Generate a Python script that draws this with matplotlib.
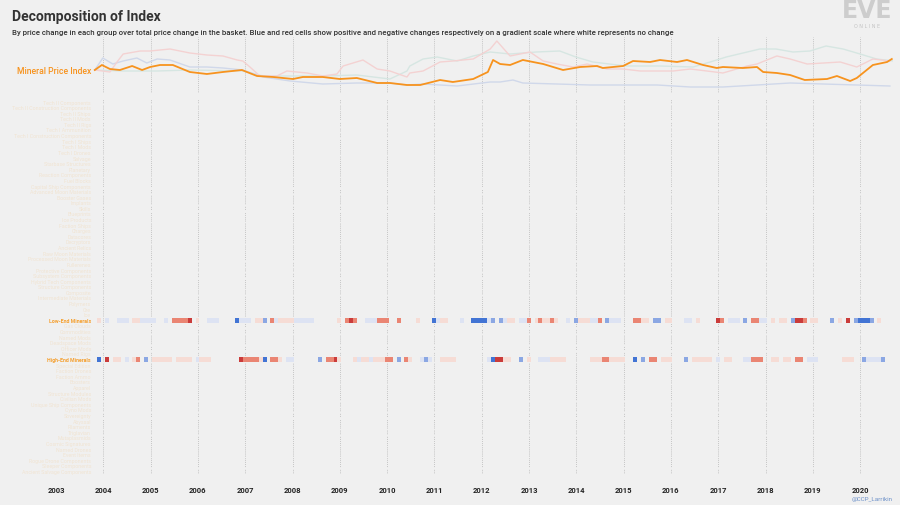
import numpy as np
import matplotlib
matplotlib.use("Agg")
import matplotlib.pyplot as plt
from matplotlib.colors import LinearSegmentedColormap

# ---------------- data ----------------
idx_years = [2003.82,2003.97,2004.14,2004.35,2004.61,2004.82,2004.99,2005.20,2005.47,2005.83,2006.19,2006.53,
             2006.93,2007.25,2007.59,2008.01,2008.22,2008.64,2009.00,2009.36,2009.79,2010.06,2010.42,2010.70,
             2011.12,2011.39,2011.82,2012.13,2012.24,2012.39,2012.60,2012.87,2013.30,2013.72,2014.08,2014.44,
             2014.56,2014.99,2015.20,2015.56,2015.77,2016.13,2016.34,2016.68,2016.97,2017.10,2017.52,2017.82,
             2017.95,2018.24,2018.52,2018.83,2019.30,2019.51,2019.79,2019.93,2020.27,2020.57,2020.67]
idx_values = [29,34,30,29,33,29,32,34,34,27,25,27,29,23,22,20,22,22,20,21,16,16,14,14,19,17,20,27,39,35,
              34,39,35,29,32,33,31,33,38,37,39,37,39,34,31,32,31,32,27,26,24,19,20,23,18,21,34,37,40]

pink_years = [2003.82,2004.14,2004.29,2004.42,2004.78,2004.99,2005.41,2005.83,2006.19,2006.53,2006.83,2006.95,
              2007.10,2007.31,2007.67,2007.88,2008.31,2008.64,2008.94,2009.07,2009.49,2009.79,2010.06,2010.42,
              2010.48,2010.76,2011.12,2011.39,2011.82,2012.18,2012.32,2012.60,2013.02,2013.30,2013.59,2013.93,
              2014.23,2014.65,2014.99,2015.35,2016.05,2016.41,2016.76,2017.10,2017.61,2017.82,2018.24,2018.52,
              2018.88,2019.58,2019.93,2020.27,2020.63]
pink_values = [29,27,37,45,48,48,50,46,44,43,39,38,32,23,23,28,26,23,25,33,39,30,28,22,26,28,37,38,40,50,
               58,43,47,38,35,32,35,30,30,28,28,30,28,26,33,35,43,40,35,37,32,40,38]

blue_years = [2003.82,2003.99,2004.20,2004.42,2004.71,2004.92,2005.14,2005.41,2005.83,2006.19,2006.53,2006.95,
              2007.38,2007.95,2008.64,2009.36,2010.06,2010.42,2010.76,2011.48,2012.18,2012.39,2012.66,2012.87,
              2013.59,2014.29,2015.71,2016.41,2017.10,2017.82,2018.52,2019.22,2019.93,2020.63]
blue_values = [29,41,35,38,41,36,40,39,32,32,31,29,22,18,15,16,16,14,15,13,17,17,19,16,15,14,14,12,12,14,
               16,15,14,13]

teal_years = [2003.82,2004.42,2005.14,2005.83,2006.95,2007.38,2007.95,2008.64,2009.36,2010.06,2010.42,2010.48,
              2010.76,2011.06,2011.48,2011.82,2012.18,2012.60,2013.15,2013.65,2013.99,2014.35,2015.05,2015.77,
              2016.47,2016.83,2017.17,2017.88,2018.22,2018.58,2018.94,2019.28,2019.64,2020.00,2020.35,2020.71]
teal_values = [29,28,28,29,28,23,23,23,24,20,28,33,40,42,38,43,47,45,47,48,42,37,33,33,32,37,42,50,50,47,
               48,53,50,45,40,38]

hm_start = 2003.867
low_end = [-1,0,1,0,0,1,1,1,0,-1,-1,1, 1,1,1,0,0,1,0,-2,-2,-2,-2,-3, 0,-1,0,0,1,1,1,0,0,0,0,3,
           1,1,1,0,-1,-1,2,0,-2,1,-1,-1, -1,-1,1,1,1,1,1,0,0,0,0,0, 0,-1,0,-2,-3,-2,0,0,1,1,1,-2,
           -2,-2,0,0,-2,0,0,0,0,-1,0,0, 0,3,1,-1,-1,0,0,0,1,0,0,3, 3,3,3,1,
           2,0,2,1,-1,-1,0,1,1,-2,0,-1,-2,-1,-1,-2,-1,0,0,1,0,2,-1,-1,-1,1,1,-2,0,2,1,1,1,0,0,0,
           -2,-2,-1,-1,0,2,2,0,-1,-1,0,0,0,1,1,0,-1,0,0,0,0,-3,-2,0,1,1,1,0,2,0,-2,-2,1,1,0,-1,
           0,-1,-1,0,2,-3,-3,-2,0,-1,-1,0,0,0,2,0,-1,0,-3,0,2,3,3,3,2,0,-1,0,-1,0]
high_end = [3,0,-3,0,-1,-1,0,1,0,-1,-2,0, 2,0,-1,-1,-1,-1,-1,0,-1,-1,-1,-1, 0,1,-1,-1,-1,0,0,0,0,0,0,0,
            -3,-2,-2,-2,-2,-1,3,0,-2,-2,-1,0, 1,1,0,0,0,0,0,0,2,0,-2,-2, -3,-1,0,0,0,-1,1,-1,-1,1,-1,-1,
            -1,-2,-2,0,2,0,-2,-1,0,0,1,2, 1,0,0,-1,-1,-1,-1,0,0,0,0,0, 0,0,0,1,
            3,-3,-3,-1,-1,0,0,2,0,-1,0,0,1,1,1,-1,-1,-1,-1,0,0,0,0,0,0,-1,-1,-1,-2,-2,-1,-1,-1,-1,0,0,
            3,0,2,0,-2,-2,0,-1,-1,-1,0,0,0,2,0,-1,-1,-1,-1,-1,0,1,0,-1,-1,0,0,0,1,1,-2,-2,-2,0,0,-1,
            -1,0,-1,-1,0,-2,-2,0,1,1,1,0,0,0,0,0,0,-1,-1,-1,0,0,2,1,1,1,1,2]

row_labels = ["Tech II Components","Tech II Construction Components","Tech II Ships","Tech II Mods",
    "Tech II Rigs","Tech I Ammunition","Tech I Construction Components","Tech I Ships","Tech I Mods",
    "Tech I Drones","Salvage","Starbase Structures","Planetary","Reaction Components","Fuel Blocks",
    "Capital Ship Components","Advanced Moon Materials","Booster Gases","Implants","Skills","Blueprints",
    "Ice Products","Faction Ships","Charges","Datacores","Decryptors","Ancient Relics",
    "Raw Moon Materials","Processed Moon Materials","Fullerenes","Protective Components",
    "Subsystem Components","Hybrid Tech Components","Structure Components","Composite",
    "Intermediate Materials","Polymers","Ore","Ice","Low-End Minerals","Gas Clouds","Commodities",
    "Named Mods","Deadspace Mods","Officer Mods","Named Rigs","High-End Minerals","Special Edition",
    "Faction Drones","Faction Ammo","Boosters","Apparel","Structure Modules","Civilian Mods",
    "Unique Ship Components","Cyno Mods","Sovereignty","Abyssal","Filaments","Triglavian",
    "Mutaplasmids","Cosmic Signatures","Named Drones","Event Items","Rogue Drone Components",
    "Sleeper Components","Ancient Salvage Components"]
highlight = {"Low-End Minerals", "High-End Minerals"}
year_ticks = list(range(2003, 2021))

# ---------------- figure ----------------
W, H = 900, 506
BG = "#f0f0f0"
FONT = "Roboto"
fig = plt.figure(figsize=(W/100, H/100), dpi=100, facecolor=BG)

x0, x1 = 56, 893
xmin = 2003.0
xmax = 2003 + (x1 - x0) / 47.3

def axrect(top, bottom):
    return [x0/W, 1 - bottom/H, (x1-x0)/W, (bottom-top)/H]

GRID = dict(color="#b8b8b8", lw=0.6, ls=(0, (1, 1.3)), zorder=0)

# top panel
ax1 = fig.add_axes(axrect(38, 94))
ax1.set_facecolor(BG)
ax1.set_xlim(xmin, xmax)
ax1.set_ylim(6, 62)
for y in year_ticks[1:]:
    ax1.axvline(y, **GRID)
ax1.plot(teal_years, teal_values, color="#d6e6e2", lw=1.0)
ax1.plot(blue_years, blue_values, color="#d0d8ea", lw=1.0)
ax1.plot(pink_years, pink_values, color="#f4d2d2", lw=1.0)
ax1.plot(idx_years, idx_values, color="#f7931e", lw=1.3)
ax1.axis("off")
fig.text(91/W, 1 - 72/H, "Mineral Price Index", color="#f7931e", fontsize=6.2,
         ha="right", va="center", family=FONT, fontweight="medium")

# heatmap
nrows = len(row_labels)
ax2 = fig.add_axes(axrect(100.2, 100.2 + 5.6*nrows))
ax2.set_facecolor(BG)
ax2.set_xlim(xmin, xmax)
ax2.set_ylim(nrows - 0.5, -0.5)
for y in year_ticks[1:]:
    ax2.axvline(y, **GRID)

cmap = LinearSegmentedColormap.from_list("rb", ["#c0272d", "#e8735f", "#f6d9d2", "#f7f4f4",
                                                "#dae1f3", "#7a9be0", "#2f66d0"])
ncols = min(len(low_end), len(high_end))
data = np.full((nrows, ncols), np.nan)
data[row_labels.index("Low-End Minerals")] = low_end[:ncols]
data[row_labels.index("High-End Minerals")] = high_end[:ncols]
data = np.where(data == 0, np.nan, data)
xedges = hm_start + np.arange(ncols + 1) / 12.0
yedges = np.arange(nrows + 1) - 0.5
ax2.pcolormesh(xedges, yedges, np.ma.masked_invalid(data), cmap=cmap, vmin=-3.3, vmax=3.3,
               shading="flat", zorder=2)
for i in range(nrows + 1):
    ax2.axhspan(i - 0.5 - 0.08, i - 0.5 + 0.08, color=BG, zorder=3, lw=0)
ax2.set_yticks([])
ax2.set_xticks([])
for s in ax2.spines.values():
    s.set_visible(False)
for i, lab in enumerate(row_labels):
    if lab in highlight:
        ax2.text(xmin + 35/47.3, i, lab, color="#f5a030", fontsize=3.8, fontweight="bold",
                 ha="right", va="center", family=FONT)
    else:
        ax2.text(xmin + 35/47.3, i, lab, color="#f1e4d2", fontsize=3.8,
                 ha="right", va="center", family=FONT)

for y in year_ticks:
    fig.text((x0 + (y - 2003) * 47.3)/W, 1 - 491/H, str(y), fontsize=5.5, color="#222222",
             ha="center", va="center", family=FONT, fontweight="bold")

fig.text(12/W, 1 - 17/H, "Decomposition of Index", fontsize=10, color="#333333",
         family=FONT, fontweight="bold", va="center")
fig.text(12/W, 1 - 33/H,
         "By price change in each group over total price change in the basket. Blue and red cells show positive and negative changes respectively on a gradient scale where white represents no change",
         fontsize=5.6, color="#333333", family=FONT, va="center", fontweight="medium")
fig.text(867/W, 1 - 11/H, "EVE", fontsize=17, color="#cdcdcd", family="DejaVu Sans",
         ha="center", va="center", fontweight="bold")
fig.text(867/W, 1 - 27/H, "O N L I N E", fontsize=3.5, color="#c4c4c4", ha="center", va="center")
fig.text(893/W, 1 - 500/H, "@CCP_Larrikin", fontsize=4.5, color="#6a8fc8", ha="right",
         va="center", family=FONT)

fig.savefig("out.png", dpi=100, facecolor=BG)
